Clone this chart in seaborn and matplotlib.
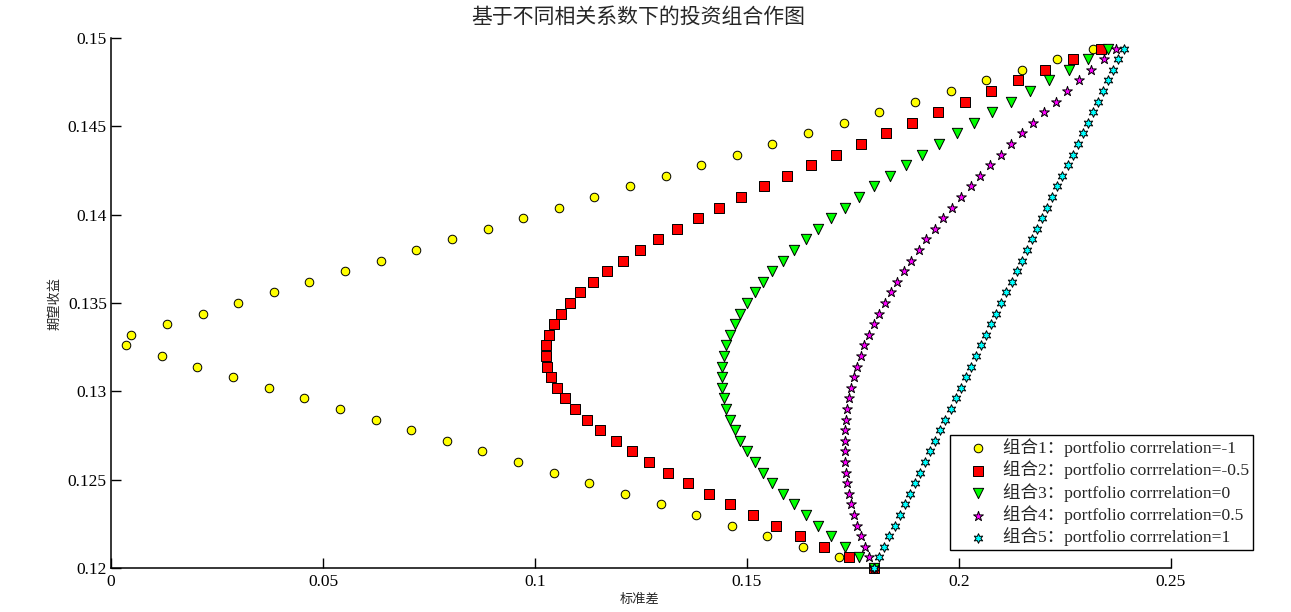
import matplotlib
matplotlib.use("Agg")
import matplotlib.pyplot as plt
import seaborn as sns
import pandas as pd

# ---------------- data ----------------
expected_return = [0.12, 0.1206, 0.1212, 0.1218, 0.1224, 0.123, 0.1236, 0.1242, 0.1248, 0.1254,
                   0.126, 0.1266, 0.1272, 0.1278, 0.1284, 0.129, 0.1296, 0.1302, 0.1308, 0.1314,
                   0.132, 0.1326, 0.1332, 0.1338, 0.1344, 0.135, 0.1356, 0.1362, 0.1368, 0.1374,
                   0.138, 0.1386, 0.1392, 0.1398, 0.1404, 0.141, 0.1416, 0.1422, 0.1428, 0.1434,
                   0.144, 0.1446, 0.1452, 0.1458, 0.1464, 0.147, 0.1476, 0.1482, 0.1488, 0.1494]

std_corr_m1 = [0.18, 0.1716, 0.1632, 0.1548, 0.1464, 0.138, 0.1296, 0.1212, 0.1128, 0.1044,
               0.096, 0.0876, 0.0792, 0.0708, 0.0624, 0.054, 0.0456, 0.0372, 0.0288, 0.0204,
               0.012, 0.0036, 0.0048, 0.0132, 0.0216, 0.03, 0.0384, 0.0468, 0.0552, 0.0636,
               0.072, 0.0804, 0.0888, 0.0972, 0.1056, 0.114, 0.1224, 0.1308, 0.1392, 0.1476,
               0.156, 0.1644, 0.1728, 0.1812, 0.1896, 0.198, 0.2064, 0.2148, 0.2232, 0.2316]

std_corr_m05 = [0.18, 0.174, 0.1682, 0.1625, 0.1569, 0.1514, 0.1461, 0.141, 0.1361, 0.1314,
                0.127, 0.1228, 0.119, 0.1154, 0.1123, 0.1095, 0.1071, 0.1053, 0.1038, 0.1029,
                0.1025, 0.1026, 0.1033, 0.1044, 0.1061, 0.1082, 0.1107, 0.1137, 0.117, 0.1207,
                0.1247, 0.129, 0.1336, 0.1384, 0.1434, 0.1486, 0.1539, 0.1594, 0.1651, 0.1709,
                0.1768, 0.1828, 0.1889, 0.195, 0.2013, 0.2076, 0.214, 0.2204, 0.2269, 0.2334]

std_corr_0 = [0.18, 0.1765, 0.1731, 0.1698, 0.1667, 0.1638, 0.161, 0.1584, 0.156, 0.1538,
              0.1518, 0.15, 0.1484, 0.1471, 0.146, 0.1451, 0.1445, 0.1441, 0.144, 0.1441,
              0.1445, 0.1451, 0.146, 0.1471, 0.1484, 0.15, 0.1518, 0.1538, 0.156, 0.1584,
              0.161, 0.1638, 0.1667, 0.1698, 0.1731, 0.1765, 0.18, 0.1837, 0.1874, 0.1913,
              0.1953, 0.1995, 0.2036, 0.2079, 0.2123, 0.2168, 0.2213, 0.2259, 0.2305, 0.2352]

std_corr_05 = [0.18, 0.1788, 0.1778, 0.1768, 0.176, 0.1752, 0.1746, 0.174, 0.1736, 0.1733,
               0.1731, 0.173, 0.173, 0.1731, 0.1733, 0.1736, 0.174, 0.1745, 0.1752, 0.1759,
               0.1768, 0.1777, 0.1788, 0.1799, 0.1811, 0.1825, 0.1839, 0.1854, 0.187, 0.1887,
               0.1905, 0.1923, 0.1943, 0.1963, 0.1984, 0.2005, 0.2028, 0.205, 0.2074, 0.2098,
               0.2123, 0.2148, 0.2174, 0.2201, 0.2228, 0.2255, 0.2283, 0.2312, 0.2341, 0.237]

std_corr_1 = [0.18, 0.1812, 0.1824, 0.1836, 0.1848, 0.186, 0.1872, 0.1884, 0.1896, 0.1908,
              0.192, 0.1932, 0.1944, 0.1956, 0.1968, 0.198, 0.1992, 0.2004, 0.2016, 0.2028,
              0.204, 0.2052, 0.2064, 0.2076, 0.2088, 0.21, 0.2112, 0.2124, 0.2136, 0.2148,
              0.216, 0.2172, 0.2184, 0.2196, 0.2208, 0.222, 0.2232, 0.2244, 0.2256, 0.2268,
              0.228, 0.2292, 0.2304, 0.2316, 0.2328, 0.234, 0.2352, 0.2364, 0.2376, 0.2388]

series_labels = ["组合1：portfolio corrrelation=-1",
                 "组合2：portfolio corrrelation=-0.5",
                 "组合3：portfolio corrrelation=0",
                 "组合4：portfolio corrrelation=0.5",
                 "组合5：portfolio corrrelation=1"]

x_ticks = [0, 0.05, 0.1, 0.15, 0.2, 0.25]
x_tick_labels = ["0", "0.05", "0.1", "0.15", "0.2", "0.25"]
y_ticks = [0.12, 0.125, 0.13, 0.135, 0.14, 0.145, 0.15]
y_tick_labels = ["0.12", "0.125", "0.13", "0.135", "0.14", "0.145", "0.15"]

title_text = "基于不同相关系数下的投资组合作图"
x_label = "标准差"
y_label = "期望收益"

# ---------------- styling ----------------
sns.set_style("white")
plt.rcParams["font.family"] = ["Liberation Serif", "Noto Sans CJK SC", "DejaVu Sans"]
plt.rcParams["axes.unicode_minus"] = False

series_std = [std_corr_m1, std_corr_m05, std_corr_0, std_corr_05, std_corr_1]
colors = ["#FFFF00", "#FF0000", "#00FF00", "#FF00FF", "#00FFFF"]
markers = ["o", "s", "v", "*", (6, 1, 0)]
sizes = [38, 44, 55, 55, 48]

fig = plt.figure(figsize=(12.91, 6.12), dpi=100)
ax = fig.add_axes([111 / 1291, 44 / 612, 1060 / 1291, 530 / 612])

for std, lab, col, mk, sz in zip(series_std, series_labels, colors, markers, sizes):
    df = pd.DataFrame({"std": std, "ret": expected_return})
    sns.scatterplot(data=df, x="std", y="ret", ax=ax, marker=mk, s=sz, color=col,
                    edgecolor="black", linewidth=0.7, label=lab, clip_on=False, zorder=3)

ax.set_xlim(0, 0.25)
ax.set_ylim(0.12, 0.15)
ax.set_xticks(x_ticks)
ax.set_xticklabels(x_tick_labels)
ax.set_yticks(y_ticks)
ax.set_yticklabels(y_tick_labels)
ax.set_xlabel("")
ax.set_ylabel("")
for side in ["top", "right"]:
    ax.spines[side].set_visible(False)
for side in ["left", "bottom"]:
    ax.spines[side].set_color("black")
    ax.spines[side].set_linewidth(1.1)
ax.tick_params(direction="in", length=7.5, width=1.0, labelsize=12.5, colors="black",
               left=True, bottom=True)
ax.tick_params(axis="y", pad=3)
ax.tick_params(axis="x", pad=4)

leg = ax.legend(loc="lower left", bbox_to_anchor=(950 / 1291, 62 / 612),
                bbox_transform=fig.transFigure, fontsize=12.6, frameon=True,
                fancybox=False, framealpha=1, edgecolor="black", borderpad=0.2,
                labelspacing=0.2, handletextpad=0.05, handlelength=2.8, borderaxespad=0)
leg.get_frame().set_linewidth(1.0)

fig.text(638 / 1291, 1 - 18 / 612, title_text, ha="center", va="center", fontsize=15)
fig.text(640 / 1291, 1 - 600 / 612, x_label, ha="center", va="center", fontsize=9.5)
fig.text(55 / 1291, 1 - 304 / 612, y_label, ha="center", va="center", fontsize=9.5,
         rotation=90)

fig.savefig("out.png", dpi=100)
